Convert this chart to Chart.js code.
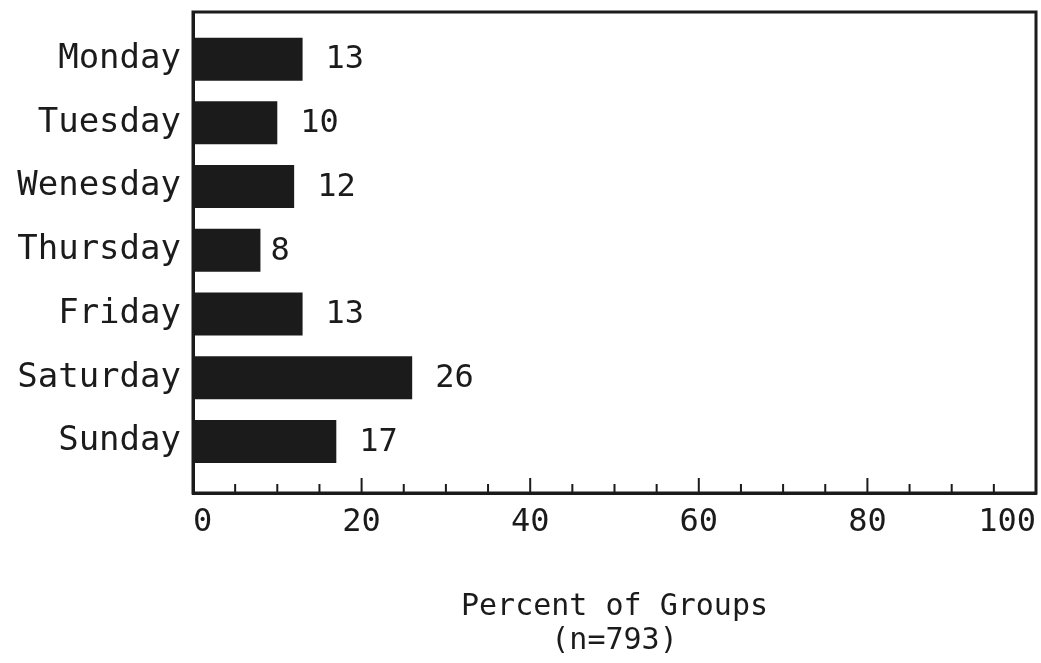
<!DOCTYPE html>
<html>
<head>
<meta charset="utf-8">
<script src="https://cdn.jsdelivr.net/npm/chart.js@4/dist/chart.umd.min.js"></script>
<style>
  body { margin: 0; background: #fff; }
  canvas { display: block; }
</style>
</head>
<body>
<canvas id="myChart" width="1041" height="663"></canvas>
<script>
// data
const days = ['Monday', 'Tuesday', 'Wenesday', 'Thursday', 'Friday', 'Saturday', 'Sunday'];
const percents = [13, 10, 12, 8, 13, 26, 17];
const xTicks = [0, 20, 40, 60, 80, 100];
const minorTicks = [5, 10, 15, 25, 30, 35, 45, 50, 55, 65, 70, 75, 85, 90, 95];
const majorTicks = [20, 40, 60, 80];
const titleLines = ['Percent of Groups', '(n=793)'];

const ink = '#1b1b1b';
const fontName = '"DejaVu Sans Mono", "Liberation Mono", monospace';

// frame, inward tick marks and value labels
const extras = {
    id: 'extras',
    afterDatasetsDraw(chart) {
        const ctx = chart.ctx;
        const area = chart.chartArea;
        const xs = chart.scales.x;
        ctx.save();
        ctx.strokeStyle = ink;
        ctx.lineWidth = 3;
        ctx.strokeRect(area.left, area.top, area.right - area.left, area.bottom - area.top);

        ctx.lineWidth = 2;
        ctx.beginPath();
        minorTicks.forEach(function (v) {
            const px = xs.getPixelForValue(v);
            ctx.moveTo(px, area.bottom);
            ctx.lineTo(px, area.bottom - 9);
        });
        majorTicks.forEach(function (v) {
            const px = xs.getPixelForValue(v);
            ctx.moveTo(px, area.bottom);
            ctx.lineTo(px, area.bottom - 15);
        });
        ctx.stroke();

        ctx.fillStyle = ink;
        ctx.font = '32px ' + fontName;
        ctx.textAlign = 'left';
        ctx.textBaseline = 'middle';
        const bars = chart.getDatasetMeta(0).data;
        bars.forEach(function (bar, i) {
            const gap = percents[i] < 10 ? 10 : 23;
            ctx.fillText(String(percents[i]), bar.x + gap, bar.y + 1);
        });
        ctx.restore();
    }
};

const ctx = document.getElementById('myChart').getContext('2d');
const myChart = new Chart(ctx, {
    type: 'bar',
    data: {
        datasets: [{
            data: percents.map(function (p, i) { return { x: p, y: i }; }),
            backgroundColor: ink,
            borderWidth: 0,
            barPercentage: 0.675,
            categoryPercentage: 1
        }]
    },
    options: {
        indexAxis: 'y',
        responsive: false,
        animation: false,
        devicePixelRatio: 1,
        layout: { padding: { top: 12, right: 5, bottom: 0, left: 0 } },
        plugins: {
            legend: { display: false },
            tooltip: { enabled: false }
        },
        scales: {
            x: {
                type: 'linear',
                min: 0,
                max: 100,
                afterBuildTicks: function (axis) {
                    axis.ticks = xTicks.map(function (v) { return { value: v }; });
                },
                afterFit: function (axis) {
                    axis.height = 170;
                    axis.paddingLeft = 0;
                    axis.paddingRight = 0;
                },
                grid: { display: false, drawTicks: false },
                border: { display: true, color: ink, width: 3 },
                ticks: {
                    color: ink,
                    padding: 10,
                    align: 'inner',
                    maxRotation: 0,
                    font: { family: fontName, size: 32 }
                },
                title: {
                    display: true,
                    text: titleLines,
                    color: ink,
                    padding: { top: 0, bottom: 5 },
                    font: { family: fontName, size: 30, lineHeight: 1.12 }
                }
            },
            y: {
                type: 'linear',
                reverse: true,
                offset: false,
                min: -0.74,
                max: 6.81,
                afterBuildTicks: function (axis) {
                    axis.ticks = days.map(function (d, i) { return { value: i }; });
                },
                afterFit: function (axis) {
                    axis.width = 193;
                    axis.paddingTop = 0;
                    axis.paddingBottom = 0;
                },
                grid: { display: false, drawTicks: false },
                border: { display: true, color: ink, width: 3 },
                ticks: {
                    color: ink,
                    padding: 12,
                    font: { family: fontName, size: 34 },
                    callback: function (value) { return days[value]; }
                }
            }
        }
    },
    plugins: [extras]
});
</script>
</body>
</html>
